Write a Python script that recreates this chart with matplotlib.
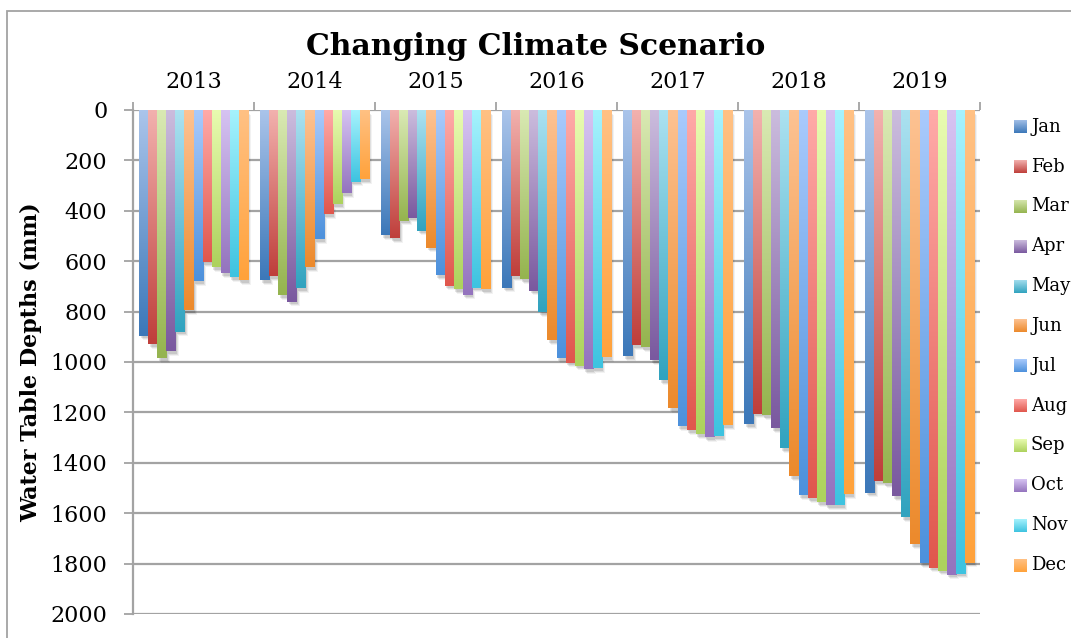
import numpy as np
import matplotlib
matplotlib.use("Agg")
import matplotlib.pyplot as plt
from matplotlib.patches import Rectangle
from matplotlib.colors import to_rgb
from matplotlib.transforms import ScaledTranslation

# Water table depths (mm) per month, grouped by year
years = ["2013", "2014", "2015", "2016", "2017", "2018", "2019"]
months = ["Jan", "Feb", "Mar", "Apr", "May", "Jun",
          "Jul", "Aug", "Sep", "Oct", "Nov", "Dec"]

d2013 = [895, 930, 985, 958, 879, 795, 680, 605, 624, 648, 664, 676]
d2014 = [676, 659, 735, 760, 708, 624, 513, 413, 374, 330, 285, 274]
d2015 = [497, 508, 440, 428, 480, 547, 655, 698, 712, 734, 706, 712]
d2016 = [706, 659, 671, 718, 803, 913, 985, 1002, 1014, 1028, 1024, 982]
d2017 = [977, 933, 941, 994, 1072, 1184, 1255, 1271, 1287, 1298, 1295, 1251]
d2018 = [1247, 1206, 1211, 1263, 1342, 1454, 1529, 1541, 1557, 1569, 1569, 1525]
d2019 = [1518, 1474, 1481, 1533, 1617, 1724, 1799, 1816, 1828, 1844, 1840, 1796]
depths = [d2013, d2014, d2015, d2016, d2017, d2018, d2019]

y_ticks = list(range(0, 2001, 200))

# gradient end colours for each month: light (top) -> dark (bottom)
light_cols = ["#aac4ea", "#f2b1ae", "#d9e9b3", "#cbbcdd", "#abe1f0", "#fdc292",
              "#a9cafc", "#ffaaa8", "#e8fbb0", "#d6c3f2", "#a5f2fd", "#ffc184"]
dark_cols = ["#3c78b9", "#bf3f3b", "#95b44f", "#7a599f", "#31a3bf", "#ec8a2c",
             "#4d91dc", "#e0574d", "#add25d", "#9474be", "#3ec3e0", "#ffa23b"]

W, H, DPI = 1071, 638, 100
fig = plt.figure(figsize=(W / DPI, H / DPI), dpi=DPI)
fig.patch.set_facecolor("white")

serif = "DejaVu Serif"
grey = "#a3a3a3"

ax_l, ax_r, ax_t, ax_b = 133, 980, 110, 614
ax = fig.add_axes([ax_l / W, 1 - ax_b / H, (ax_r - ax_l) / W, (ax_b - ax_t) / H])

n_groups = len(years)
n_months = len(months)
bar_w = 0.0749
span = bar_w * n_months


def gradient(c_top, c_bot, n=64):
    a = np.array(to_rgb(c_top))
    b = np.array(to_rgb(c_bot))
    t = np.linspace(0, 1, n)[:, None]
    return (a * (1 - t) + b * t)[:, None, :]


# soft drop shadow layers (offset in inches, alpha)
shadow_layers = [(0.015, -0.025, 0.10), (0.025, -0.035, 0.08), (0.035, -0.045, 0.05)]

for g, vals in enumerate(depths):
    for m, v in enumerate(vals):
        x0 = g - span / 2 + m * bar_w
        for dx, dy, a in shadow_layers:
            tr = ax.transData + ScaledTranslation(dx, dy, fig.dpi_scale_trans)
            ax.add_patch(Rectangle((x0, 0), bar_w, v, facecolor="black",
                                   edgecolor="none", alpha=a, transform=tr,
                                   zorder=1))
for g, vals in enumerate(depths):
    for m, v in enumerate(vals):
        x0 = g - span / 2 + m * bar_w
        ax.imshow(gradient(light_cols[m], dark_cols[m]),
                  extent=(x0, x0 + bar_w, v, 0), aspect="auto",
                  interpolation="bilinear", zorder=2)

ax.set_xlim(-0.5, n_groups - 0.5)
ax.set_ylim(2000, 0)

# horizontal grid
for yv in y_ticks:
    ax.axhline(yv, color=grey, lw=1.6, zorder=0.5)

for s in ["right", "bottom", "top"]:
    ax.spines[s].set_visible(False)
ax.spines["left"].set_color(grey)
ax.spines["left"].set_linewidth(1.6)

ax.set_yticks(y_ticks)
ax.set_yticklabels([str(v) for v in y_ticks], fontfamily=serif, fontsize=16)
ax.tick_params(axis="y", direction="out", length=6.5, width=1.3, color=grey,
               pad=12)

ax.xaxis.set_ticks_position("top")
ax.set_xticks(np.arange(n_groups + 1) - 0.5)
ax.set_xticklabels([])
ax.set_xticks(np.arange(n_groups), minor=True)
ax.set_xticklabels(years, minor=True, fontfamily=serif, fontsize=16)
ax.tick_params(axis="x", which="major", direction="out", length=6, width=1.3,
               color=grey)
ax.tick_params(axis="x", which="minor", length=0, pad=12)

ax.set_ylabel("Water Table Depths (mm)", fontfamily=serif, fontsize=16,
              fontweight="bold")
ax.yaxis.set_label_coords((42 - ax_l) / (ax_r - ax_l), 0.5)

fig.text(0.5, 1 - 55 / H, "Changing Climate Scenario", ha="center",
         va="baseline", fontfamily=serif, fontsize=21.5, fontweight="bold")

# legend column with gradient swatches
for m, name in enumerate(months):
    yc = 126.7 + m * 39.85
    sz = 13
    lax = fig.add_axes([1014 / W, 1 - (yc + sz / 2) / H, sz / W, sz / H])
    lax.imshow(gradient(light_cols[m], dark_cols[m]), aspect="auto",
               interpolation="bilinear")
    lax.set_axis_off()
    fig.text(1031 / W, 1 - yc / H, name, ha="left", va="center",
             fontfamily=serif, fontsize=13)

# chart frame
fig.add_artist(Rectangle((7 / W, -0.1), 1.2, 1.1 - 11 / H,
                         transform=fig.transFigure, fill=False,
                         edgecolor=grey, lw=1.3))

fig.savefig("out.png", dpi=DPI)
